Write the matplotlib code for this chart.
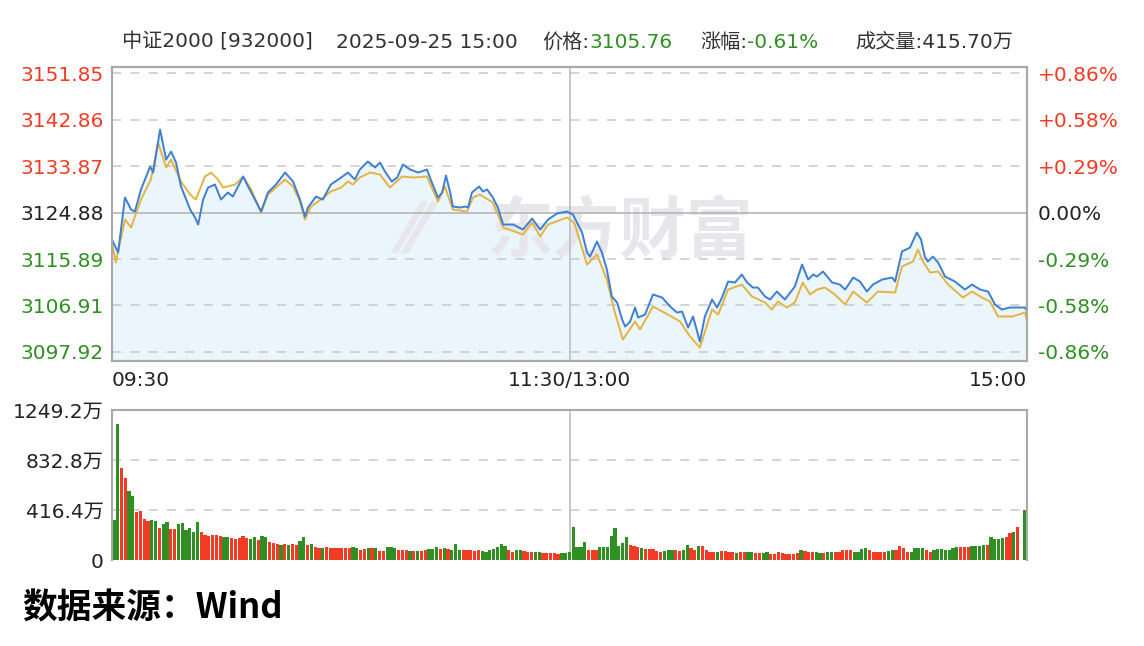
import numpy as np
import matplotlib
matplotlib.use("Agg")
import matplotlib.pyplot as plt

plt.rcParams['font.family'] = ['DejaVu Sans', 'Noto Sans CJK SC']

W, H = 1144, 646

# ---- data ----
pre_close = 3124.88
price_ticks = [3097.92, 3106.91, 3115.89, 3124.88, 3133.87, 3142.86, 3151.85]
pct_labels = ['-0.86%', '-0.58%', '-0.29%', '0.00%', '+0.29%', '+0.58%', '+0.86%']
vol_ticks = [0, 416.4, 832.8, 1249.2]
vol_labels = ['0', '416.4万', '832.8万', '1249.2万']
time_labels = ['09:30', '11:30/13:00', '15:00']

# minutes since 09:30 (afternoon continues at 120)
price_t = [0, 1.6, 3.4, 5.0, 6.0, 7.6, 10.0, 10.8, 12.6, 14.2, 15.5, 16.8, 18.1, 20.5, 21.8,
           22.6, 23.9, 25.2, 27.0, 28.6, 30.4, 31.7, 33.6, 34.4, 35.7, 37.5, 39.1, 40.9, 43.0,
           45.4, 47.5, 49.3, 50.6, 51.4, 53.5, 55.3, 57.4, 60.1, 61.9, 63.7, 65.0, 67.1, 69.0,
           70.3, 71.6, 73.4, 74.8, 76.3, 78.2, 80.3, 82.6, 83.9, 85.5, 86.6, 87.6, 88.7, 89.4,
           91.3, 92.6, 93.4, 94.4, 96.3, 97.3, 98.4, 99.9, 101.2, 102.6, 105.2, 107.8, 110.2,
           112.3, 114.4, 116.7, 119.3, 120.9, 123.3, 124.6, 125.4, 127.2, 128.5, 129.8, 131.1,
           132.5, 133.8, 134.6, 135.9, 137.2, 138.0, 139.8, 141.9, 144.3, 146.4, 148.2, 149.5,
           151.1, 152.4, 154.2, 155.5, 157.4, 158.7, 160.0, 161.6, 163.4, 165.2, 166.6, 168.1,
           169.4, 171.3, 172.6, 174.4, 176.5, 179.1, 181.0, 182.6, 183.9, 184.9, 186.5, 188.9,
           190.9, 192.3, 194.4, 196.2, 198.0, 199.6, 202.0, 204.6, 205.4, 207.2, 209.3, 211.1,
           212.2, 213.2, 214.0, 215.3, 216.7, 218.5, 221.1, 223.7, 225.6, 227.7, 229.8, 231.6,
           233.4, 235.5, 237.6, 239.5, 240]
price = [3119.66, 3117.15, 3127.78, 3125.46, 3125.07, 3129.33, 3133.77, 3132.61, 3140.92, 3135.12,
         3136.67, 3134.55, 3129.91, 3125.46, 3123.91, 3122.56, 3127.39, 3129.71, 3130.29, 3127.39,
         3128.75, 3127.97, 3130.68, 3131.84, 3129.91, 3127.39, 3125.07, 3128.75, 3130.29, 3132.61,
         3130.87, 3127.39, 3124.11, 3125.85, 3127.97, 3127.39, 3130.29, 3131.65, 3132.61, 3131.26,
         3133.19, 3134.74, 3133.58, 3134.55, 3132.81, 3130.87, 3131.65, 3134.16, 3133.19, 3132.61,
         3133.19, 3130.68, 3127.78, 3128.75, 3132.03, 3128.75, 3126.04, 3125.85, 3126.04, 3125.85,
         3128.75, 3129.91, 3128.94, 3129.33, 3127.78, 3125.85, 3122.56, 3122.56, 3121.59, 3123.72,
         3121.59, 3123.53, 3124.69, 3125.07, 3124.49, 3121.01, 3117.15, 3116.37, 3119.27, 3117.15,
         3113.86, 3108.64, 3107.48, 3104.19, 3102.84, 3103.81, 3106.52, 3104.58, 3105.16, 3109.03,
         3108.45, 3106.71, 3105.55, 3105.74, 3102.65, 3104.78, 3099.94, 3104.78, 3108.06, 3106.52,
         3108.45, 3111.54, 3111.35, 3112.90, 3111.35, 3110.38, 3110.38, 3108.64, 3108.06, 3109.61,
         3108.06, 3110.58, 3114.83, 3111.93, 3112.90, 3112.51, 3113.47, 3111.35, 3110.96, 3109.99,
         3112.32, 3111.54, 3109.61, 3110.96, 3111.93, 3112.32, 3111.54, 3117.34, 3118.11, 3121.01,
         3119.66, 3116.37, 3115.41, 3116.37, 3115.21, 3112.51, 3111.54, 3109.99, 3110.96, 3109.99,
         3109.61, 3107.10, 3106.13, 3106.52, 3106.52, 3106.52, 3105.76]

avg_t = [0, 1.0, 3.4, 5.0, 7.6, 10.2, 12.1, 14.2, 15.5, 18.1, 20.5, 22.0, 24.4, 26.0, 27.8, 29.1,
         32.3, 34.4, 36.5, 39.1, 40.9, 43.0, 45.4, 47.5, 49.3, 50.6, 52.2, 54.8, 57.4, 60.1, 61.9,
         63.2, 65.0, 67.7, 70.3, 72.9, 76.1, 79.0, 82.6, 85.5, 87.3, 89.4, 93.1, 94.7, 96.5, 99.9,
         102.6, 107.8, 110.2, 112.3, 114.4, 119.3, 120.9, 121.4, 124.6, 127.2, 129.8, 131.9, 134.0,
         137.2, 138.5, 141.9, 145.8, 149.0, 151.6, 154.2, 157.4, 159.0, 161.6, 165.2, 167.9, 171.3,
         173.1, 174.7, 177.0, 179.1, 181.2, 183.1, 184.9, 187.0, 189.6, 192.3, 194.4, 198.0, 200.9,
         205.4, 207.2, 210.1, 211.4, 212.7, 214.6, 216.7, 219.3, 223.2, 225.6, 228.2, 230.3, 232.4,
         236.1, 239.5, 240]
avg_price = [3119.08, 3115.21, 3123.53, 3121.98, 3127.39, 3131.26, 3138.41, 3133.58, 3135.12,
             3130.87, 3128.36, 3127.39, 3131.84, 3132.61, 3131.26, 3129.71, 3130.29, 3131.84,
             3129.33, 3124.88, 3128.36, 3129.71, 3131.26, 3129.91, 3127.01, 3123.53, 3126.04,
             3127.39, 3128.94, 3129.71, 3130.87, 3130.29, 3131.65, 3132.61, 3132.23, 3129.71,
             3131.84, 3131.65, 3131.84, 3127.01, 3129.91, 3125.46, 3125.07, 3127.78, 3128.36,
             3126.81, 3121.98, 3120.63, 3122.95, 3120.24, 3122.56, 3123.91, 3123.14, 3122.56,
             3114.83, 3116.76, 3111.93, 3105.55, 3100.33, 3103.81, 3102.26, 3106.71, 3105.16,
             3103.81, 3100.91, 3098.78, 3106.13, 3105.16, 3109.99, 3110.96, 3108.64, 3107.48,
             3106.13, 3107.68, 3106.52, 3107.48, 3111.35, 3109.03, 3109.99, 3110.38, 3109.03,
             3107.10, 3109.61, 3107.48, 3109.61, 3109.42, 3114.44, 3115.41, 3117.73, 3115.41,
             3113.28, 3113.47, 3110.96, 3108.45, 3109.61, 3108.45, 3107.68, 3104.78, 3104.78,
             3105.55, 3103.81]

# volume per minute (万), 241 bars
volume = [333, 1130, 764, 686, 575, 533, 403, 408, 342, 325,
          333, 325, 264, 297, 314, 258, 258, 297, 305, 247,
          269, 231, 314, 231, 208, 203, 208, 208, 203, 194,
          194, 186, 175, 186, 203, 186, 175, 194, 167, 203,
          194, 153, 139, 131, 125, 131, 125, 131, 125, 158,
          194, 125, 131, 111, 103, 103, 111, 103, 103, 97,
          97, 97, 100, 105, 100, 83, 90, 97, 97, 100,
          75, 75, 105, 110, 100, 85, 83, 80, 75, 78,
          72, 78, 80, 90, 95, 110, 90, 100, 90, 85,
          135, 85, 85, 80, 85, 78, 80, 75, 70, 85,
          95, 110, 135, 120, 80, 70, 80, 85, 75, 65,
          65, 65, 68, 60, 55, 55, 55, 52, 55, 60, 70,
          278, 111, 111, 147, 83, 83, 83, 105, 111, 111,
          200, 269, 120, 139, 189, 122, 117, 111, 97, 90,
          89, 95, 75, 69, 75, 85, 85, 80, 75, 80,
          125, 97, 83, 117, 117, 80, 69, 69, 65, 75,
          72, 69, 65, 60, 64, 64, 69, 69, 55, 55,
          60, 65, 50, 50, 64, 60, 50, 50, 50, 55,
          83, 78, 64, 64, 64, 60, 55, 69, 64, 64,
          64, 80, 80, 80, 69, 69, 90, 97, 80, 69,
          69, 69, 69, 75, 80, 80, 114, 97, 69, 69,
          97, 97, 97, 83, 69, 80, 92, 92, 83, 83,
          97, 105, 111, 105, 105, 114, 114, 117, 125, 125,
          194, 172, 175, 180, 194, 222, 236, 278, 0, 416]
vol_dir = ("ggrrggrrrr" "ggrggrrggg" "gggrrrrrrg" "grrrrrggrg" "grrrgrgrrg" "grgrrgrrrr"
           "rrrggrrgrg" "rrgggrrrgr" "grrgggrgrg" "ggrrrrrggg" "ggggrrggrr" "rggrrrrrggg"
           "ggggrrrggg" "gggggrrrgr" "rrrrgggrrg" "grrgrrrrgr" "rrrgrrggrr" "ggrrrrrrrr"
           "grrrggrggr" "rrrrggggrr" "rrrggrrrrg" "gggrrggggg" "ggrrrggggr" "ggggrrgrgg")

RED, GREEN = '#f23b25', '#2f8f22'
BLUE, YELLOW = '#3f7fd0', '#e3b445'
GRID = '#c9c9c9'
SPINE = '#a9a9a9'
TXT = '#333333'

fig = plt.figure(figsize=(W / 100, H / 100), dpi=100)

def fx(px):
    return px / W

def fy(py):
    return 1 - py / H

# ---- price panel ----
ax = fig.add_axes([fx(112), fy(361), fx(1027) - fx(112), fy(67) - fy(361)])
ymin, ymax = 3096.18, 3153.01
ax.set_xlim(0, 240)
ax.set_ylim(ymin, ymax)
ax.fill_between(price_t, price, ymin, color='#ebf5fc', zorder=1)
for v in price_ticks:
    if v == pre_close:
        ax.axhline(v, color='#b5b5b5', lw=1.2, zorder=2)
    else:
        ax.axhline(v, color=GRID, lw=1.1, ls=(0, (6, 6)), zorder=2)
ax.axvline(120, color='#bdbdbd', lw=1.2, zorder=2)
# watermark
ax.text(0.555, 0.435, '东方财富', transform=ax.transAxes, fontsize=48, fontweight='bold',
        color='#e6e6eb', ha='center', va='center', family=['Noto Sans CJK SC'], zorder=1.5)
ax.text(0.33, 0.435, '⁄⁄', transform=ax.transAxes, fontsize=48, fontweight='bold',
        color='#e6e6eb', ha='center', va='center', zorder=1.5)
ax.plot(avg_t, avg_price, color=YELLOW, lw=1.4, zorder=3)
ax.plot(price_t, price, color=BLUE, lw=1.4, zorder=4)

ax.set_yticks(price_ticks)
ax.set_yticklabels([f'{v:.2f}' for v in price_ticks], fontsize=14.5)
ax.set_xticks([0, 120, 240])
ax.set_xticklabels(time_labels, fontsize=14.5, color='#222222')
xl = ax.get_xticklabels()
xl[0].set_ha('left')
xl[2].set_ha('right')
ax.tick_params(axis='both', length=0, pad=6)
ax.tick_params(axis='x', pad=7)
for lab, v in zip(ax.get_yticklabels(), price_ticks):
    lab.set_color(RED if v > pre_close else (GREEN if v < pre_close else '#222222'))

ax2 = ax.twinx()
ax2.set_ylim(ymin, ymax)
ax2.set_yticks(price_ticks)
ax2.set_yticklabels(pct_labels, fontsize=14.5)
ax2.tick_params(axis='y', length=0, pad=8)
for lab, v in zip(ax2.get_yticklabels(), price_ticks):
    lab.set_color(RED if v > pre_close else (GREEN if v < pre_close else '#222222'))
for a in (ax, ax2):
    for s in a.spines.values():
        s.set_color(SPINE)
        s.set_linewidth(1.5)

# ---- volume panel ----
bx = fig.add_axes([fx(112), fy(560), fx(1027) - fx(112), fy(410) - fy(560)])
idx = np.arange(len(volume))
bar_colors = [RED if c == 'r' else GREEN for c in vol_dir]
bx.set_xlim(-0.5, len(volume) - 0.5)
bx.set_ylim(0, 1249.2)
for v in vol_ticks[1:3]:
    bx.axhline(v, color=GRID, lw=1.1, ls=(0, (6, 6)), zorder=1)
bx.axvline(120, color='#bdbdbd', lw=1.2, zorder=1)
bx.bar(idx, volume, width=0.85, color=bar_colors, zorder=2)
bx.set_yticks(vol_ticks)
bx.set_yticklabels(vol_labels, fontsize=14.5, color='#222222')
bx.set_xticks([])
bx.tick_params(axis='y', length=0, pad=6)
for s in bx.spines.values():
    s.set_color(SPINE)
    s.set_linewidth(1.5)
bx.spines['bottom'].set_visible(False)

# ---- header line: groups start where they do in the original ----
renderer = fig.canvas.get_renderer()
groups = [(122, [('中证2000 [932000]', TXT)]),
          (336, [('2025-09-25 15:00', TXT)]),
          (542, [('价格:', TXT), ('3105.76', GREEN)]),
          (700, [('涨幅:', TXT), ('-0.61%', GREEN)]),
          (855, [('成交量:415.70万', TXT)])]
for x0, parts in groups:
    x = x0
    for s, c in parts:
        t = fig.text(fx(x), fy(42), s, fontsize=14.5, color=c, va='center', ha='left')
        x += t.get_window_extent(renderer).width

# ---- footer ----
fig.text(fx(22), fy(608), '数据来源：Wind', fontsize=25, fontweight='bold', color='#000000',
         va='center', ha='left', family=['Noto Sans CJK SC', 'DejaVu Sans'])

fig.savefig('out.png', dpi=100)
